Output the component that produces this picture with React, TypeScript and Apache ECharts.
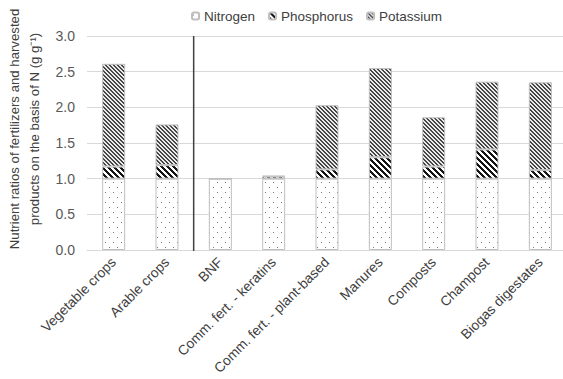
import React, { useEffect, useRef } from "react";
import * as echarts from "echarts";

const categories = [
  "Vegetable crops",
  "Arable crops",
  "BNF",
  "Comm. fert. - keratins",
  "Comm. fert. - plant-based",
  "Manures",
  "Composts",
  "Champost",
  "Biogas digestates",
];
const nitrogen = [1, 1, 1, 1, 1, 1, 1, 1, 1];
const phosphorus = [0.17, 0.19, 0, 0.03, 0.13, 0.3, 0.17, 0.41, 0.12];
const potassium = [1.44, 0.57, 0, 0.01, 0.9, 1.25, 0.69, 0.95, 1.23];
const seriesNames = ["Nitrogen", "Phosphorus", "Potassium"];
const yMin = 0;
const yMax = 3;
const yStep = 0.5;

const FONT = "'Liberation Sans', Arial, sans-serif";

function makePattern(w: number, h: number, fn: (x: number, y: number) => number[]) {
  const c = document.createElement("canvas");
  c.width = w;
  c.height = h;
  const ctx = c.getContext("2d")!;
  const img = ctx.createImageData(w, h);
  for (let y = 0; y < h; y++) {
    for (let x = 0; x < w; x++) {
      const [r, g, b] = fn(x, y);
      const i = (y * w + x) * 4;
      img.data[i] = r;
      img.data[i + 1] = g;
      img.data[i + 2] = b;
      img.data[i + 3] = 255;
    }
  }
  ctx.putImageData(img, 0, 0);
  return { image: c, repeat: "repeat", imageWidth: w, imageHeight: h } as any;
}

export default function App() {
  const ref = useRef<HTMLDivElement>(null);
  useEffect(() => {
    if (!ref.current) return;
    const chart = echarts.init(ref.current, null, { renderer: "svg" });

    const nPat = makePattern(8, 10, (x, y) =>
      (x === 1 && y === 2) || (x === 5 && y === 7) ? [120, 120, 120] : [255, 255, 255]
    );
    const pPat = makePattern(6, 6, (x, y) =>
      (((x - y) % 6) + 6) % 6 < 3 ? [20, 20, 20] : [255, 255, 255]
    );
    const kPat = makePattern(4, 4, (x, y) =>
      (((x - y) % 4) + 4) % 4 < 2 ? [70, 70, 70] : [235, 235, 235]
    );
    const pats = [nPat, pPat, kPat];
    const data = [nitrogen, phosphorus, potassium];

    chart.setOption({
      animation: false,
      textStyle: { fontFamily: FONT },
      legend: {
        top: 4,
        left: 186,
        itemWidth: 7,
        itemHeight: 7,
        itemGap: 13,
        data: seriesNames,
        textStyle: { fontSize: 13.5, color: "#404040", fontFamily: FONT },
      },
      grid: {
        left: 87,
        top: 36,
        width: 480,
        height: 214,
        containLabel: false,
        outerBoundsMode: "none",
      },
      xAxis: {
        type: "category",
        data: categories,
        axisTick: { show: false },
        axisLine: { lineStyle: { color: "#d9d9d9", width: 1 } },
        axisLabel: {
          rotate: 45,
          interval: 0,
          margin: 10,
          fontSize: 13.8,
          color: "#404040",
          fontFamily: FONT,
        },
      },
      yAxis: {
        type: "value",
        min: yMin,
        max: yMax,
        interval: yStep,
        name: "Nutrient ratios of fertilizers and harvested\nproducts on the basis of N (g g\u207B\u00B9)",
        nameLocation: "middle",
        nameRotate: 90,
        nameGap: 42,
        nameTextStyle: {
          fontSize: 13.2,
          color: "#404040",
          lineHeight: 20,
          fontFamily: FONT,
          padding: [0, 0, 0, 28],
        },
        axisLine: { show: false },
        axisTick: { show: false },
        splitLine: { lineStyle: { color: "#d9d9d9", width: 1 } },
        axisLabel: {
          formatter: (v: number) => v.toFixed(1),
          fontSize: 14,
          color: "#595959",
          margin: 12,
          fontFamily: FONT,
        },
      },
      series: seriesNames.map((name, i) => ({
        name,
        type: "bar",
        stack: "total",
        barWidth: 23,
        data: data[i],
        itemStyle: { color: pats[i], borderColor: "#bfbfbf", borderWidth: 1 },
        emphasis: { disabled: true },
      })),
    });

    const x1 = chart.convertToPixel({ xAxisIndex: 0 }, categories[1]) as number;
    const x2 = chart.convertToPixel({ xAxisIndex: 0 }, categories[2]) as number;
    const yTop = chart.convertToPixel({ yAxisIndex: 0 }, yMax) as number;
    const yBot = chart.convertToPixel({ yAxisIndex: 0 }, yMin) as number;
    const xm = (x1 + x2) / 2;
    chart.setOption({
      graphic: [
        {
          type: "line",
          shape: { x1: xm, y1: yTop, x2: xm, y2: yBot + 1 },
          style: { stroke: "#404040", lineWidth: 1.5 },
          z: 10,
        },
      ],
    });

    return () => chart.dispose();
  }, []);
  return (
    <div
      ref={ref}
      style={{ position: "absolute", left: 0, top: 0, width: 563, height: 379 }}
    />
  );
}
